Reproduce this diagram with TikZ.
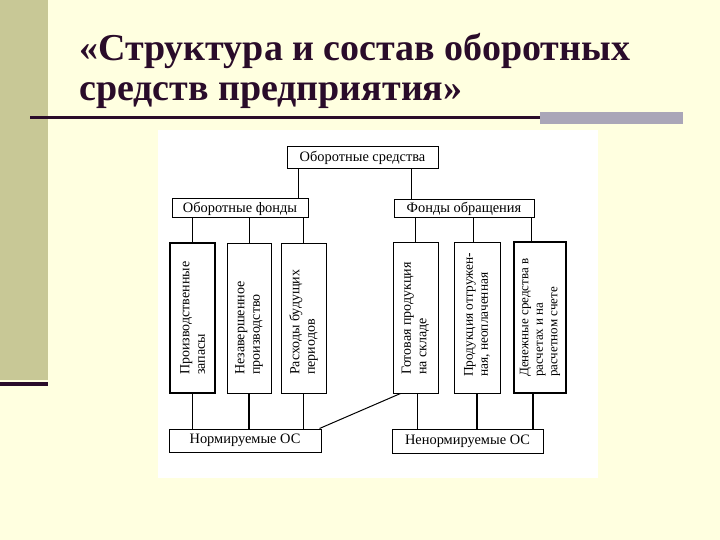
\documentclass[tikz,border=0pt]{standalone}
\usepackage{fontspec}
\setmainfont{Liberation Serif}
\usetikzlibrary{calc}
\definecolor{bgcream}{RGB}{255,255,224}
\definecolor{bandolive}{RGB}{200,200,150}
\definecolor{titlecol}{RGB}{42,12,42}
\definecolor{bargray}{RGB}{170,166,184}
\tikzset{
  box/.style={draw=black, line width=1pt, fill=white, inner sep=0pt},
  vtext/.style={rotate=90, anchor=west, align=left, inner sep=0pt,
    font=\fontsize{14}{15.5}\selectfont},
  htext/.style={font=\fontsize{14.4}{16}\selectfont},
  conn/.style={draw=black, line width=1pt},
  titletext/.style={anchor=base west, inner sep=0pt, text=titlecol,
    font=\fontsize{38}{44}\selectfont\bfseries}
}
\begin{document}
\begin{tikzpicture}[x=1pt, y=-1pt]
\useasboundingbox (0,0) rectangle (720,540);
\fill[bgcream] (0,0) rectangle (720,540);
\fill[bandolive] (0,0) rectangle (48,380);
\fill[titlecol] (0,382) rectangle (48,386);
% title
\node[titletext] (t1) at (79,61) {«Структура и состав оборотных};
\node[titletext] (t2) at (79,101) {средств предприятия»};
\fill[titlecol] (30,116.5) rectangle (545,119.5);
\fill[bargray] (540,112) rectangle (683,124);
% white panel
\fill[white] (158,130) rectangle (598,478);
% boxes
\node[box, minimum width=151pt, minimum height=22pt, htext] (top) at (362.5,158) {Оборотные средства};
\node[box, minimum width=136pt, minimum height=19pt, htext] (OF) at (240,208.5) {Оборотные фонды};
\node[box, minimum width=140pt, minimum height=18pt, htext] (FO) at (464,209) {Фонды обращения};
\node[box, line width=1.6pt, minimum width=45pt, minimum height=150pt] (v1) at (192.5,318) {};
\node[box, minimum width=44pt, minimum height=150pt] (v2) at (249,318) {};
\node[box, minimum width=45pt, minimum height=150pt] (v3) at (303.5,318) {};
\node[box, minimum width=45pt, minimum height=151pt] (v4) at (415.5,317.5) {};
\node[box, minimum width=46pt, minimum height=151pt] (v5) at (477,317.5) {};
\node[box, line width=1.8pt, minimum width=52pt, minimum height=151pt] (v6) at (540,317.5) {};
\node[box, minimum width=152pt, minimum height=23pt, htext] (NO) at (245,440.5) {Нормируемые ОС};
\node[box, minimum width=151pt, minimum height=24pt, htext] (NN) at (467.5,441) {Ненормируемые ОС};
% vertical texts
\node[vtext] (l1) at (v1.center |- 0,375) {Производственные\\запасы};
\node[vtext] (l2) at (v2.center |- 0,375) {Незавершенное\\производство};
\node[vtext] (l3) at (v3.center |- 0,375) {Расходы будущих\\периодов};
\node[vtext] (l4) at (v4.center |- 0,375) {Готовая продукция\\на складе};
\node[vtext, font=\fontsize{13.4}{15}\selectfont] (l5) at (v5.center |- 0,377) {Продукция отгружен-\\ная, неоплаченная};
\node[vtext, font=\fontsize{13}{14.5}\selectfont] (l6) at (v6.center |- 0,377) {Денежные средства в\\расчетах и на\\расчетном счете};
% connectors top level
\draw[conn, line width=1.6pt] ([xshift=-10pt]OF.north east) -- ([xshift=-10pt]OF.north east |- top.south);
\draw[conn] ([xshift=18pt]FO.north west) -- ([xshift=18pt]FO.north west |- top.south);
% to vertical boxes
\draw[conn, line width=1.5pt] (v1.north) -- (v1.north |- OF.south);
\draw[conn] (v2.north) -- (v2.north |- OF.south);
\draw[conn] (v3.north) -- (v3.north |- OF.south);
\draw[conn] (v4.north) -- (v4.north |- FO.south);
\draw[conn] ([xshift=-4pt]v5.north) -- ([xshift=-4pt]v5.north |- FO.south);
\draw[conn] ([xshift=-9pt]v6.north) -- ([xshift=-9pt]v6.north |- FO.south);
% to bottom boxes
\draw[conn, line width=1.5pt] (v1.south) -- (v1.south |- NO.north);
\draw[conn, line width=1.5pt] (v2.south) -- (v2.south |- NO.north);
\draw[conn, line width=1.5pt] (v3.south) -- (v3.south |- NO.north);
\draw[conn] ([xshift=2pt]v4.south) -- ([xshift=2pt]v4.south |- NN.north);
\draw[conn, line width=1.5pt] (v5.south) -- (v5.south |- NN.north);
\draw[conn, line width=1.5pt] ([xshift=-7pt]v6.south) -- ([xshift=-7pt]v6.south |- NN.north);
\draw[conn] ([xshift=8pt]v4.south west) -- ([xshift=-2pt]NO.north east);
\end{tikzpicture}
\end{document}
